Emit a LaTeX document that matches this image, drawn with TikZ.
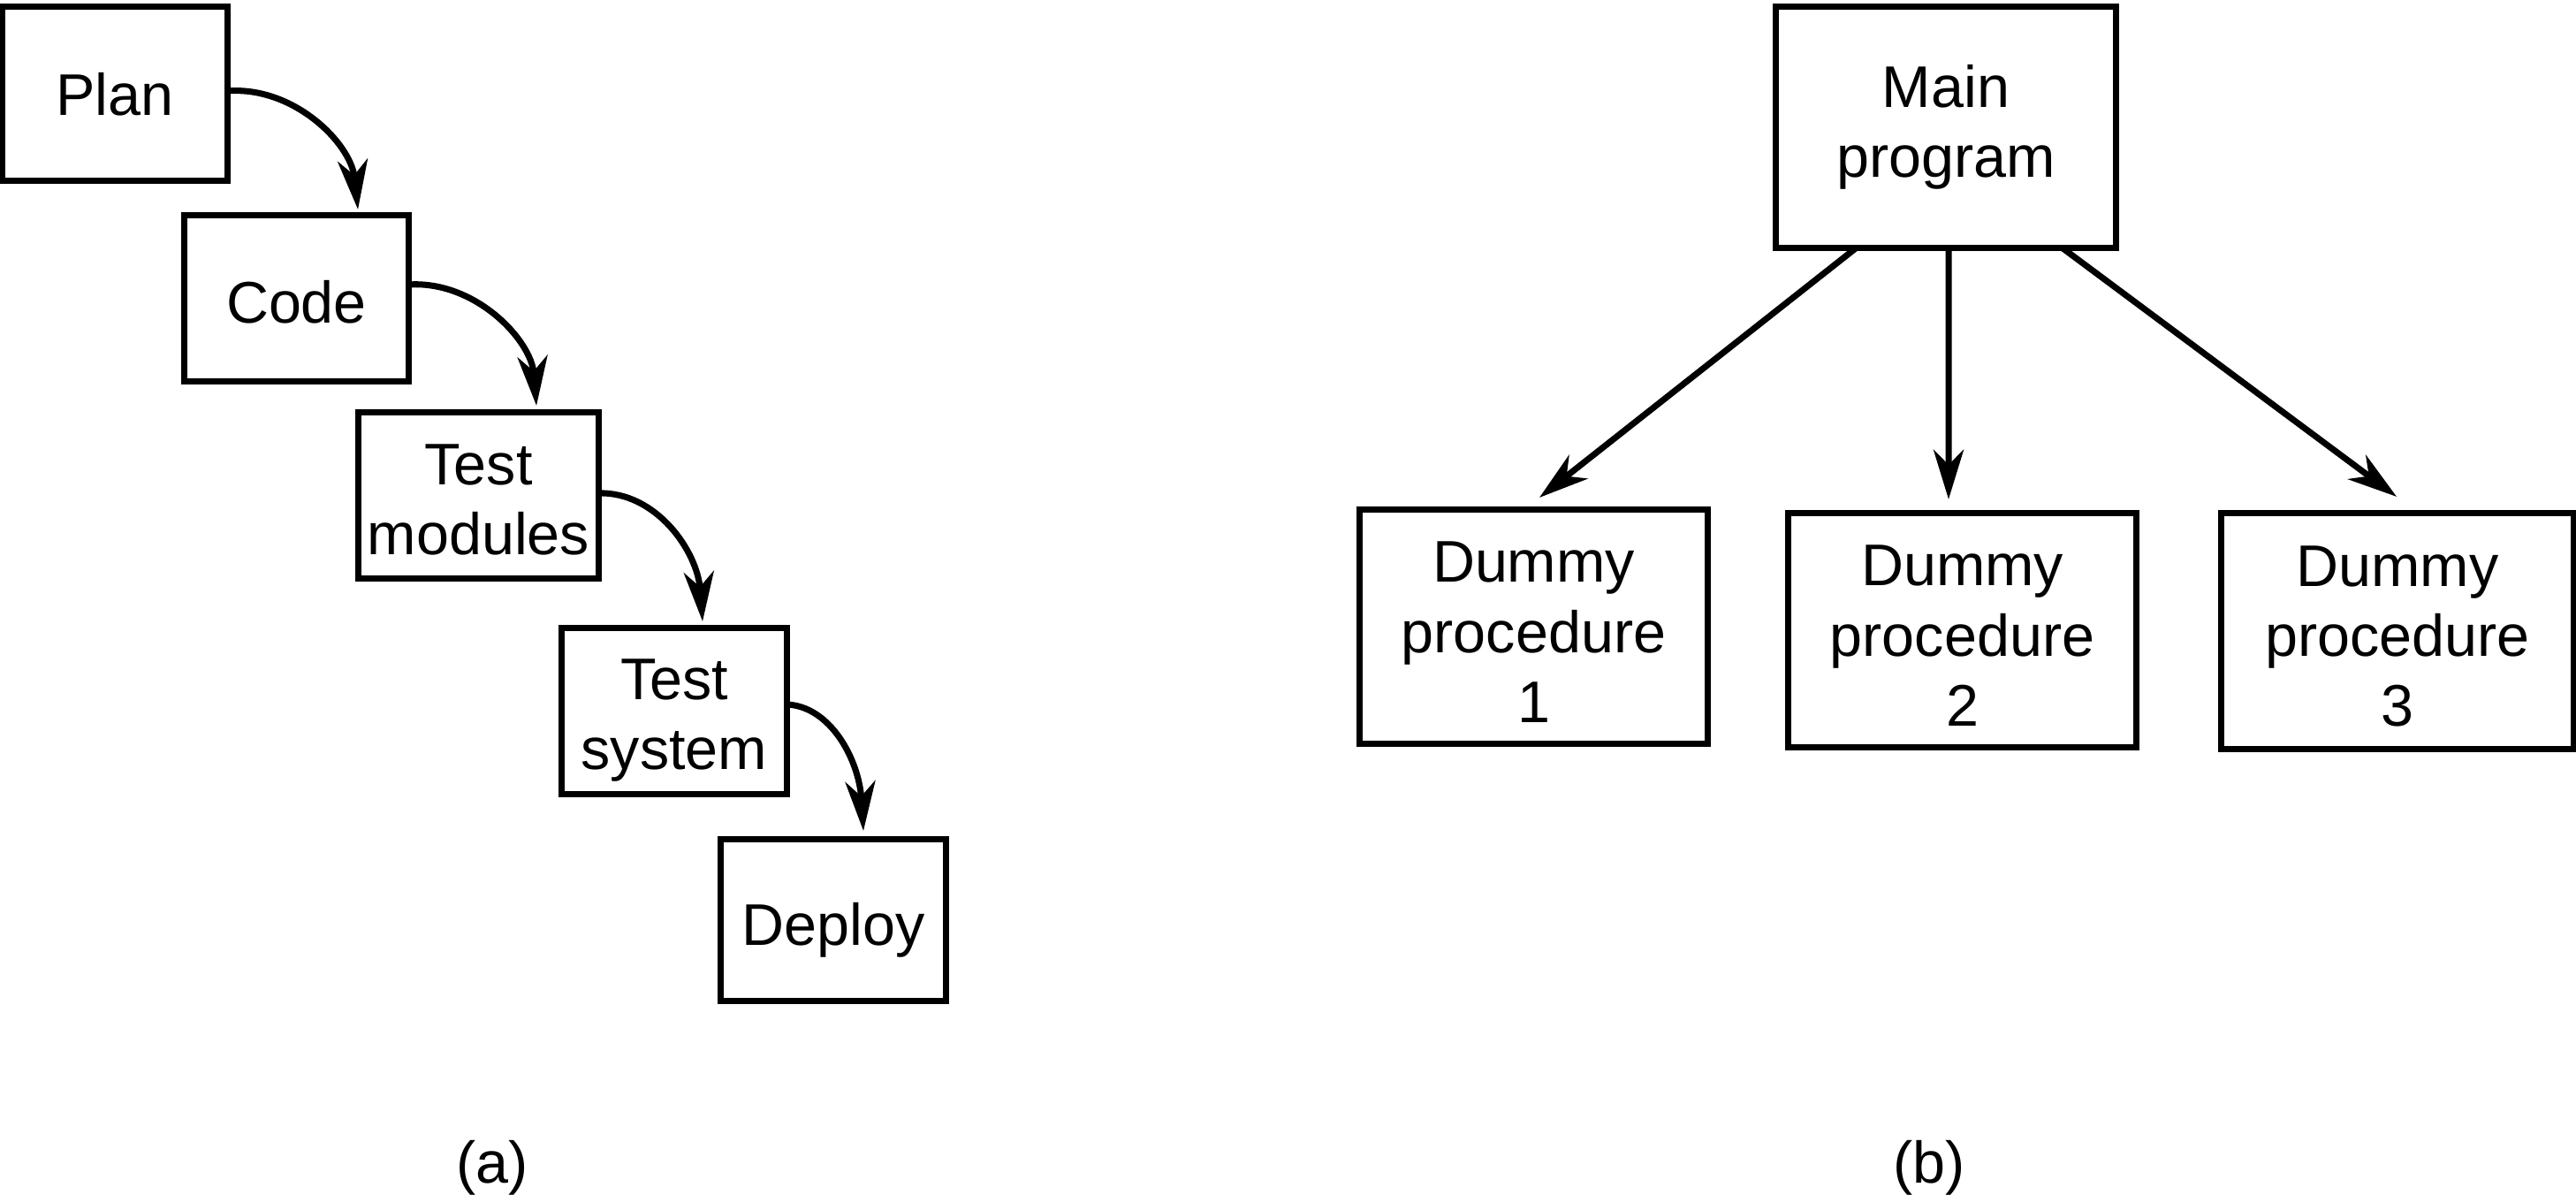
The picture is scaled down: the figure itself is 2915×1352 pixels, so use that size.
\documentclass[tikz,border=0pt]{standalone}
\usepackage{fontspec}
\setmainfont{Liberation Sans}
\usetikzlibrary{arrows.meta}
\newcommand{\figfont}{\fontsize{18.9pt}{22.5pt}\selectfont}
\newcommand{\topstrut}[1]{\rule{0pt}{#1}}
\tikzset{
  box/.style={draw, line width=2pt, inner sep=0pt, outer sep=0pt, align=center, font=\figfont},
  oneline/.style={text depth=0pt, text height=#1},
  arr/.style={line width=2pt, -{Stealth[length=5.6mm,width=3.4mm,inset=1.7mm]}},
  captext/.style={font=\figfont, anchor=base, inner sep=0pt}
}
\begin{document}
\begin{tikzpicture}[x=0.01cm,y=-0.01cm]
\useasboundingbox (0,0) rectangle (2915,1352);
% (a)
\node[box, oneline=0.48cm, minimum width=2.54cm, minimum height=1.96cm] (plan) at (130,106) {Plan};
\node[box, oneline=0.56cm, minimum width=2.53cm, minimum height=1.87cm] (code) at (335.5,337.5) {Code};
\node[box, minimum width=2.71cm, minimum height=1.87cm] (tm) at (541.5,560.5) {\topstrut{0.56cm}Test\\modules};
\node[box, minimum width=2.54cm, minimum height=1.87cm] (ts) at (763,804.5) {\topstrut{0.66cm}Test\\system};
\node[box, oneline=0.56cm, minimum width=2.54cm, minimum height=1.82cm] (deploy) at (943,1041) {Deploy};

\draw[arr] ([yshift=0.03cm]plan.east) .. controls +(75,-6) and +(-8,-75) .. ([xshift=0.695cm,yshift=0.07cm]code.north);
\draw[arr] ([yshift=0.155cm]code.east) .. controls +(75,-5) and +(-6,-75) .. ([xshift=0.655cm,yshift=0.08cm]tm.north);
\draw[arr] ([yshift=0.025cm]tm.east) .. controls +(65,-2) and +(-6,-80) .. ([xshift=0.32cm,yshift=0.08cm]ts.north);
\draw[arr] ([yshift=0.075cm]ts.east) .. controls +(50,2) and +(-5,-80) .. ([xshift=0.34cm,yshift=0.10cm]deploy.north);

% (b)
\node[box, minimum width=3.84cm, minimum height=2.72cm] (main) at (2202,144) {Main\\program};
\node[box, minimum width=3.93cm, minimum height=2.64cm] (d1) at (1735.5,709) {\topstrut{0.58cm}Dummy\\procedure\\1};
\node[box, minimum width=3.93cm, minimum height=2.64cm] (d2) at (2220.5,713) {\topstrut{0.58cm}Dummy\\procedure\\2};
\node[box, minimum width=3.98cm, minimum height=2.66cm] (d3) at (2713,714) {\topstrut{0.58cm}Dummy\\procedure\\3};

\draw[arr] ([xshift=-1.01cm]main.south) -- ([xshift=0.065cm,yshift=0.14cm]d1.north);
\draw[arr] ([xshift=0.03cm]main.south) -- ([xshift=-0.155cm,yshift=0.16cm]d2.north);
\draw[arr] ([xshift=1.31cm]main.south) -- ([xshift=-0.01cm,yshift=0.19cm]d3.north);

\node[captext] (capa) at (557,1338) {(a)};
\node[captext] (capb) at (2183,1338) {(b)};
\end{tikzpicture}
\end{document}
